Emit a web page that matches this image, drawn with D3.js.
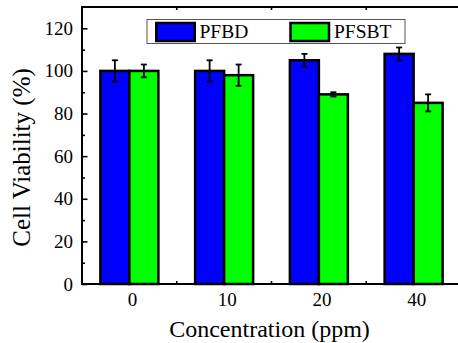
<!DOCTYPE html>
<html lang="en">
<head>
    <meta charset="UTF-8">
    <title>Cell Viability</title>
    <script src="https://d3js.org/d3.v7.min.js"></script>
    <style>
        body { margin: 0; background: #fff; }
    </style>
</head>
<body>
<div id="chart"></div>

<script>
    const categories = ["0", "10", "20", "40"];
    const seriesNames = ["PFBD", "PFSBT"];
    const pfbd = [100, 100, 105, 108];
    const pfbdErr = [5, 5, 3, 3];
    const pfsbt = [100, 98, 89, 85];
    const pfsbtErr = [3, 5, 1, 4];
    const yTicks = [0, 20, 40, 60, 80, 100, 120];
    const colors = ["#0000ff", "#00ff00"];

    const W = 458, H = 343;
    const plotLeft = 82, plotRight = 461, plotTop = 7, plotBottom = 284;
    const serif = "'Liberation Serif', 'Times New Roman', Times, 'DejaVu Serif', serif";

    const svg = d3.select("#chart")
        .append("svg")
        .attr("width", W)
        .attr("height", H)
        .attr("font-family", serif)
        .style("font-family", serif);

    const x = d3.scaleBand()
        .domain(categories)
        .range([plotLeft, plotRight])
        .paddingInner(0.388)
        .paddingOuter(0.194);

    const xs = d3.scaleBand()
        .domain(seriesNames)
        .range([0, x.bandwidth()]);

    const y = d3.scaleLinear().domain([0, 130]).range([plotBottom, plotTop]);

    // minor y ticks (inside)
    svg.append("g")
        .attr("transform", `translate(${plotLeft},0)`)
        .call(d3.axisRight(y).tickValues(d3.range(10, 130, 20)).tickSize(3).tickFormat(""))
        .call(g => g.select(".domain").remove())
        .selectAll("line").attr("stroke-width", 1.6);

    // major y ticks
    const yAxis = svg.append("g")
        .attr("transform", `translate(${plotLeft},0)`)
        .call(d3.axisRight(y).tickValues(yTicks).tickSize(5.5).tickFormat(""))
        .call(g => g.select(".domain").remove());
    yAxis.selectAll("line").attr("stroke-width", 1.6);

    svg.append("g").selectAll("text")
        .data(yTicks)
        .join("text")
        .attr("x", plotLeft - 9)
        .attr("y", d => y(d) + 6.5)
        .attr("text-anchor", "end")
        .attr("font-size", 19)
        .text(d => d);

    // ticks between categories on top and bottom
    const mids = categories.slice(1).map(c => x(c) - x.step() * x.paddingInner() / 2);
    svg.append("g").selectAll("line")
        .data(mids)
        .join("line")
        .attr("x1", d => d).attr("x2", d => d)
        .attr("y1", plotBottom).attr("y2", plotBottom - 3)
        .attr("stroke", "#000").attr("stroke-width", 1.6);
    svg.append("g").selectAll("line")
        .data(mids)
        .join("line")
        .attr("x1", d => d).attr("x2", d => d)
        .attr("y1", plotTop).attr("y2", plotTop + 3)
        .attr("stroke", "#000").attr("stroke-width", 1.6);

    const rows = categories.map((c, i) => ({
        cat: c,
        vals: [
            {name: "PFBD", v: pfbd[i], e: pfbdErr[i]},
            {name: "PFSBT", v: pfsbt[i], e: pfsbtErr[i]}
        ]
    }));

    const groups = svg.append("g").selectAll("g")
        .data(rows)
        .join("g")
        .attr("transform", d => `translate(${x(d.cat)},0)`);

    groups.selectAll("rect")
        .data(d => d.vals)
        .join("rect")
        .attr("x", d => xs(d.name))
        .attr("y", d => y(d.v))
        .attr("width", xs.bandwidth())
        .attr("height", d => y(0) - y(d.v))
        .attr("fill", (d, i) => colors[i])
        .attr("stroke", "#000")
        .attr("stroke-width", 2.5);

    // error bars
    const err = groups.selectAll("g.err")
        .data(d => d.vals)
        .join("g")
        .attr("class", "err")
        .attr("stroke", "#000")
        .attr("stroke-width", 1.8);
    err.append("line")
        .attr("x1", d => xs(d.name) + xs.bandwidth() / 2)
        .attr("x2", d => xs(d.name) + xs.bandwidth() / 2)
        .attr("y1", d => y(d.v + d.e))
        .attr("y2", d => y(d.v - d.e));
    err.append("line")
        .attr("x1", d => xs(d.name) + xs.bandwidth() / 2 - 3)
        .attr("x2", d => xs(d.name) + xs.bandwidth() / 2 + 3)
        .attr("y1", d => y(d.v + d.e))
        .attr("y2", d => y(d.v + d.e));
    err.append("line")
        .attr("x1", d => xs(d.name) + xs.bandwidth() / 2 - 3)
        .attr("x2", d => xs(d.name) + xs.bandwidth() / 2 + 3)
        .attr("y1", d => y(d.v - d.e))
        .attr("y2", d => y(d.v - d.e));

    // frame
    svg.append("rect")
        .attr("x", plotLeft).attr("y", plotTop)
        .attr("width", plotRight - plotLeft).attr("height", plotBottom - plotTop)
        .attr("fill", "none")
        .attr("stroke", "#000")
        .attr("stroke-width", 2);

    // x tick labels
    svg.append("g").selectAll("text")
        .data(categories)
        .join("text")
        .attr("x", d => x(d) + x.bandwidth() / 2 + 3)
        .attr("y", 306)
        .attr("text-anchor", "middle")
        .attr("font-size", 19)
        .text(d => d);

    // axis titles
    svg.append("text")
        .attr("x", (plotLeft + plotRight) / 2 - 2)
        .attr("y", 336.5)
        .attr("text-anchor", "middle")
        .attr("font-size", 24)
        .text("Concentration (ppm)");

    svg.append("text")
        .attr("transform", "translate(30,157.5) rotate(-90)")
        .attr("text-anchor", "middle")
        .attr("font-size", 25)
        .text("Cell Viability (%)");

    // legend
    const legend = svg.append("g");
    legend.append("rect")
        .attr("x", 147).attr("y", 19.5)
        .attr("width", 258).attr("height", 24)
        .attr("fill", "#fff")
        .attr("stroke", "#555")
        .attr("stroke-width", 1);
    const legendX = [156.25, 290.5];
    const legendTextX = [199.5, 334];
    seriesNames.forEach((name, i) => {
        legend.append("rect")
            .attr("x", legendX[i]).attr("y", 23)
            .attr("width", 38.5).attr("height", 18)
            .attr("fill", colors[i])
            .attr("stroke", "#000")
            .attr("stroke-width", 2.5);
        legend.append("text")
            .attr("x", legendTextX[i])
            .attr("y", 38.3)
            .attr("font-size", 19.5)
            .text(name);
    });
</script>
</body>
</html>
